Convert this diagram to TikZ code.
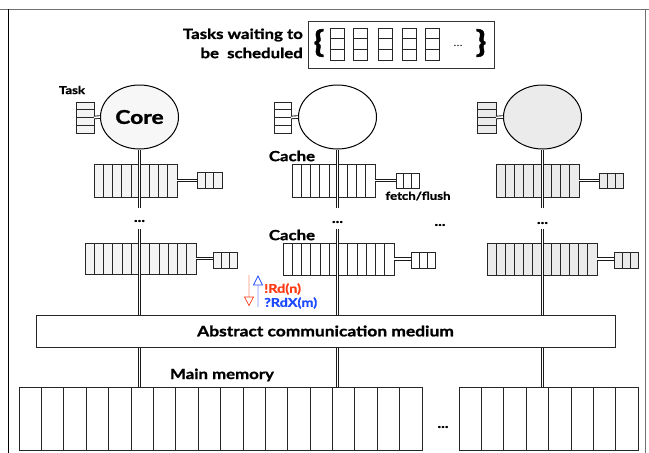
\documentclass[tikz,border=0pt]{standalone}
\usepackage{fontspec}
\setmainfont{Lato}[FakeStretch=1.2, BoldFeatures={FakeBold=1.3}]
\usetikzlibrary{shapes.geometric}
\definecolor{fillA}{HTML}{F4F4F4}
\definecolor{fillAc}{HTML}{F7F7F7}
\definecolor{fillC}{HTML}{EBEBEB}
\definecolor{rdred}{HTML}{FF3B14}
\definecolor{rdblue}{HTML}{1E4BFF}
\definecolor{framegray}{HTML}{707070}
\tikzset{
  box/.style={draw=black!85, line width=0.8pt, inner sep=0pt, outer sep=0pt},
  cellsep/.style={draw=black!85, line width=0.7pt},
  pipe/.style={draw=black!90, line width=0.9pt, double=white, double distance=1.7pt},
  core/.style={ellipse, draw=black, line width=1pt, minimum width=78pt, minimum height=64pt, inner sep=0pt},
  lbl/.style={inner sep=0pt, font=\bfseries\fontsize{14}{16}\selectfont},
  smalllbl/.style={inner sep=0pt, font=\bfseries\fontsize{11}{13}\selectfont},
  dots/.style={inner sep=0pt, font=\bfseries\fontsize{13}{13}\selectfont},
}
% horizontal row of cells: name, x1, y1, x2, y2, n, fill
\newcommand\hcells[7]{%
  \node[box, fill=#7, minimum width={(#4)-(#2)}, minimum height={(#5)-(#3)}, anchor=north west] (#1) at (#2,#3) {};
  \pgfmathtruncatemacro\nmcells{#6-1}%
  \foreach \i in {1,...,\nmcells} {\draw[cellsep] ({#2+(#4-#2)*\i/#6},#3) -- ({#2+(#4-#2)*\i/#6},#5);}
}
% vertical stack of cells
\newcommand\vcells[7]{%
  \node[box, fill=#7, minimum width={(#4)-(#2)}, minimum height={(#5)-(#3)}, anchor=north west] (#1) at (#2,#3) {};
  \pgfmathtruncatemacro\nmcells{#6-1}%
  \foreach \i in {1,...,\nmcells} {\draw[cellsep] (#2,{#3+(#5-#3)*\i/#6}) -- (#4,{#3+(#5-#3)*\i/#6});}
}
\begin{document}
\begin{tikzpicture}[x=1pt,y=-1pt]
\useasboundingbox (0,0) rectangle (649,453);
% frame
\draw[framegray, line width=1pt] (0,9) -- (649,9);
\draw[black, line width=1pt] (8,9) -- (8,453);
\draw[framegray, line width=1pt] (645,9) -- (645,453);

% task queue
\node[box, draw=black!80, minimum width=186pt, minimum height=47pt, anchor=north west] (q) at (308,21) {};
\node[lbl, anchor=east] (qt1) at (303,35) {Tasks waiting to};
\node[lbl, anchor=east] (qt2) at (303,53) {be\ \ scheduled};
\node[inner sep=0pt, font=\bfseries\fontsize{30}{30}\selectfont] (lb) at (319,43) {\{};
\vcells{q1}{330}{28}{344}{60}{3}{white}
\vcells{q2}{353}{28}{367}{60}{3}{white}
\vcells{q3}{378}{28}{392}{60}{3}{white}
\vcells{q4}{402}{28}{416}{60}{3}{white}
\vcells{q5}{425}{28}{439}{60}{3}{white}
\node[inner sep=0pt, font=\fontsize{10}{10}\selectfont] (qd) at (458,46) {\ldots};
\node[inner sep=0pt, font=\bfseries\fontsize{30}{30}\selectfont] (rb) at (481,43) {\}};

% cores
\node[core, fill=fillAc] (c1) at (139.5,117) {\bfseries\fontsize{19}{19}\selectfont Core};
\node[core, fill=white] (c2) at (337.5,117) {};
\node[core, fill=fillC] (c3) at (542.5,117) {};
\node[smalllbl] (tasklbl) at (72,90) {Task};

% task stacks beside cores
\vcells{t1}{76}{102}{94}{133}{4}{fillA}
\vcells{t2}{274}{102}{291}{133}{4}{white}
\vcells{t3}{477}{102}{496}{133}{4}{fillC}

% L1 caches
\hcells{a1}{94}{164}{177}{197}{9}{fillA}
\hcells{a2}{292}{164}{375}{197}{9}{white}
\hcells{a3}{496}{164}{579}{197}{9}{fillC}
\hcells{b1}{197}{172}{222}{188}{3}{fillA}
\hcells{b2}{396}{173}{419}{188}{3}{white}
\hcells{b3}{599}{173}{623}{188}{3}{fillC}

% L2 caches
\hcells{d1}{85}{243}{196}{274}{12}{fillA}
\hcells{d2}{283}{243}{394}{275}{12}{white}
\hcells{d3}{487}{243}{597}{275}{12}{fillC}
\hcells{e1}{213}{252}{237}{268}{3}{fillA}
\hcells{e2}{411}{252}{435}{268}{3}{white}
\hcells{e3}{614}{252}{638}{268}{3}{fillC}

% labels
\node[lbl] (cache1) at (292,156) {Cache};
\node[lbl] (cache2) at (292,235) {Cache};
\node[smalllbl] (ff) at (418,196) {fetch/flush};
\node[dots] (dt1) at (139.5,221) {...};
\node[dots] (dt2) at (337.5,222) {...};
\node[dots] (dt3) at (440,225) {...};
\node[dots] (dt4) at (542.5,223) {...};

% wire coordinates
\coordinate (w1a) at (139.5,208); \coordinate (w1b) at (139.5,229);
\coordinate (w2a) at (337.5,208); \coordinate (w2b) at (337.5,229);
\coordinate (w3a) at (542.5,208); \coordinate (w3b) at (542.5,229);
\coordinate (medtop) at (0,315.5); \coordinate (medbot) at (0,346.5);
\coordinate (memtop) at (0,387.5);

% pipes (drawn below the boxes they end on)
\draw[pipe] (c1.south) -- (w1a);
\draw[pipe] (c2.south) -- (w2a);
\draw[pipe] (c3.south) -- (w3a);
\draw[pipe] (w1b) -- (w1b |- medtop);
\draw[pipe] (w2b) -- (w2b |- medtop);
\draw[pipe] (w3b) -- (w3b |- medtop);
\draw[pipe] (t1.east) -- (c1.west);
\draw[pipe] (t2.east) -- (c2.west);
\draw[pipe] (t3.east) -- (c3.west);
\draw[pipe] (a1.east) -- (a1.east -| b1.west);
\draw[pipe] (a2.east) -- (a2.east -| b2.west);
\draw[pipe] (a3.east) -- (a3.east -| b3.west);
\draw[pipe] (d1.east) -- (d1.east -| e1.west);
\draw[pipe] (d2.east) -- (d2.east -| e2.west);
\draw[pipe] (d3.east) -- (d3.east -| e3.west);
\draw[pipe] (w1b |- medbot) -- (w1b |- memtop);
\draw[pipe] (w2b |- medbot) -- (w2b |- memtop);
\draw[pipe] (w3b |- medbot) -- (w3b |- memtop);

% medium
\node[box, fill=white, minimum width=579pt, minimum height=32pt, anchor=north west] (med) at (36,315) {};
\node[lbl, font=\bfseries\fontsize{14.5}{16}\selectfont] (medlbl) at (325.5,331) {Abstract communication medium};

% memory
\hcells{m1}{19}{387}{422}{450}{18}{white}
\hcells{m2}{459}{387}{638}{450}{8}{white}
\node[lbl] (mmlbl) at (222,375) {Main memory};
\node[dots] (dtm) at (443,427) {...};

% read / readX arrows
\coordinate (ra1) at (249,275); \coordinate (ra2) at (249,297); \coordinate (ra3) at (249,305.5);
\draw[draw=rdred, line width=0.5pt, double=rdred!20, double distance=1.2pt] (ra1) -- (ra2);
\draw[draw=rdred, line width=0.7pt, fill=white] ([xshift=-4.5pt]ra2) -- ([xshift=4.5pt]ra2) -- (ra3) -- cycle;
\coordinate (ba1) at (258,307); \coordinate (ba2) at (258,285); \coordinate (ba3) at (258,276);
\draw[draw=rdblue, line width=0.5pt, double=rdblue!20, double distance=1.2pt] (ba1) -- (ba2);
\draw[draw=rdblue, line width=0.7pt, fill=white] ([xshift=-4.5pt]ba2) -- ([xshift=4.5pt]ba2) -- (ba3) -- cycle;
\node[inner sep=0pt, anchor=west, text=rdred, font=\bfseries\fontsize{12}{13}\selectfont] (rdn) at (264,289) {!Rd(n)};
\node[inner sep=0pt, anchor=west, text=rdblue, font=\bfseries\fontsize{12}{13}\selectfont] (rdx) at (264,303) {?RdX(m)};
\end{tikzpicture}
\end{document}
